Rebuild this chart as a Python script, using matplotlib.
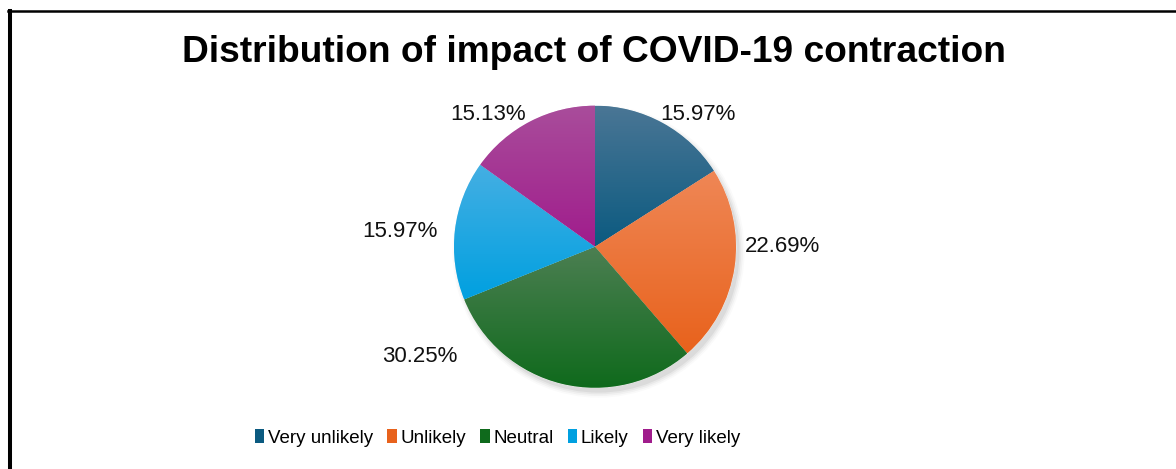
import matplotlib
matplotlib.use("Agg")
import matplotlib.pyplot as plt
import numpy as np
from matplotlib import font_manager
from matplotlib.colors import LinearSegmentedColormap
from matplotlib.patches import Patch, Circle
from matplotlib.lines import Line2D

categories = ["Very unlikely", "Unlikely", "Neutral", "Likely", "Very likely"]
shares = [15.97, 22.69, 30.25, 15.97, 15.13]

# each slice fades from a lighter top to a deeper bottom
top_colors = ["#4a7695", "#ef8756", "#4c7f52", "#45afe3", "#a94d9b"]
bottom_colors = ["#0b5a80", "#e8621c", "#0f6a1c", "#00a0e0", "#a01c8c"]

# percentage labels: angle (deg) and distance (in pie radii) from the centre
label_angle = [52.1, 0.2, 212.1, 175.6, 128.8]
label_dist = [1.19, 1.33, 1.47, 1.39, 1.205]

W, H = 1176, 469
cx, cy, r_px = 595, 246.7, 141

plt.rcParams["font.family"] = ["Liberation Sans", "DejaVu Sans"]

try:
    font_manager.findfont("Liberation Sans Narrow", fallback_to_default=False)
    legend_family, legend_size, col_sp = "Liberation Sans Narrow", 15.3, 1.1
except ValueError:
    legend_family, legend_size, col_sp = "Liberation Sans", 13.5, 0.75

fig = plt.figure(figsize=(W / 100, H / 100), dpi=100)
ax = fig.add_axes([0, 0, 1, 1])

# soft shadow under the pie
for k, a in enumerate([0.05, 0.04, 0.03, 0.02]):
    ax.add_patch(Circle((0.025, -0.035), 1.0 + 0.012 * k, color="black",
                        alpha=a, lw=0, zorder=0))

wedges, _ = ax.pie(shares, startangle=90, counterclock=False, radius=1,
                   colors=bottom_colors,
                   wedgeprops=dict(linewidth=0.4, edgecolor="white"))

grad = np.linspace(0, 1, 256).reshape(-1, 1)
for w, c_top, c_bot in zip(wedges, top_colors, bottom_colors):
    w.set_zorder(2)
    ext = w.get_path().get_extents()
    cmap = LinearSegmentedColormap.from_list("g", [c_bot, c_top])
    im = ax.imshow(grad, extent=(ext.x0, ext.x1, ext.y0, ext.y1),
                   origin="lower", cmap=cmap, aspect="auto", zorder=3,
                   interpolation="bilinear")
    im.set_clip_path(w)

for share, ang, dist in zip(shares, label_angle, label_dist):
    t = np.deg2rad(ang)
    ax.text(dist * np.cos(t), dist * np.sin(t), f"{share:.2f}%",
            ha="center", va="center", fontsize=16, color="#111111", zorder=5)

ax.set_xlim(-cx / r_px, (W - cx) / r_px)
ax.set_ylim(-(H - cy) / r_px, cy / r_px)
ax.axis("off")

fig.text(594 / W, 1 - 53 / H, "Distribution of impact of COVID-19 contraction",
         ha="center", va="center", fontsize=26.7, fontweight="bold")

handles = [Patch(facecolor=c) for c in bottom_colors]
fig.legend(handles, categories, loc="center",
           bbox_to_anchor=(497.5 / W, 1 - 438 / H), ncol=5, frameon=False,
           prop=dict(family=legend_family, size=legend_size),
           handlelength=0.5, handleheight=0.75, handletextpad=0.2,
           columnspacing=col_sp)

# outer frame (left and top edges only are in view)
fig.add_artist(Line2D([9.5 / W, 9.5 / W], [0, 1 - 11 / H], color="black",
                      lw=2.9, transform=fig.transFigure))
fig.add_artist(Line2D([8 / W, 1], [1 - 11 / H, 1 - 11 / H], color="black",
                      lw=1.8, transform=fig.transFigure))

fig.savefig("out.png", dpi=100)
